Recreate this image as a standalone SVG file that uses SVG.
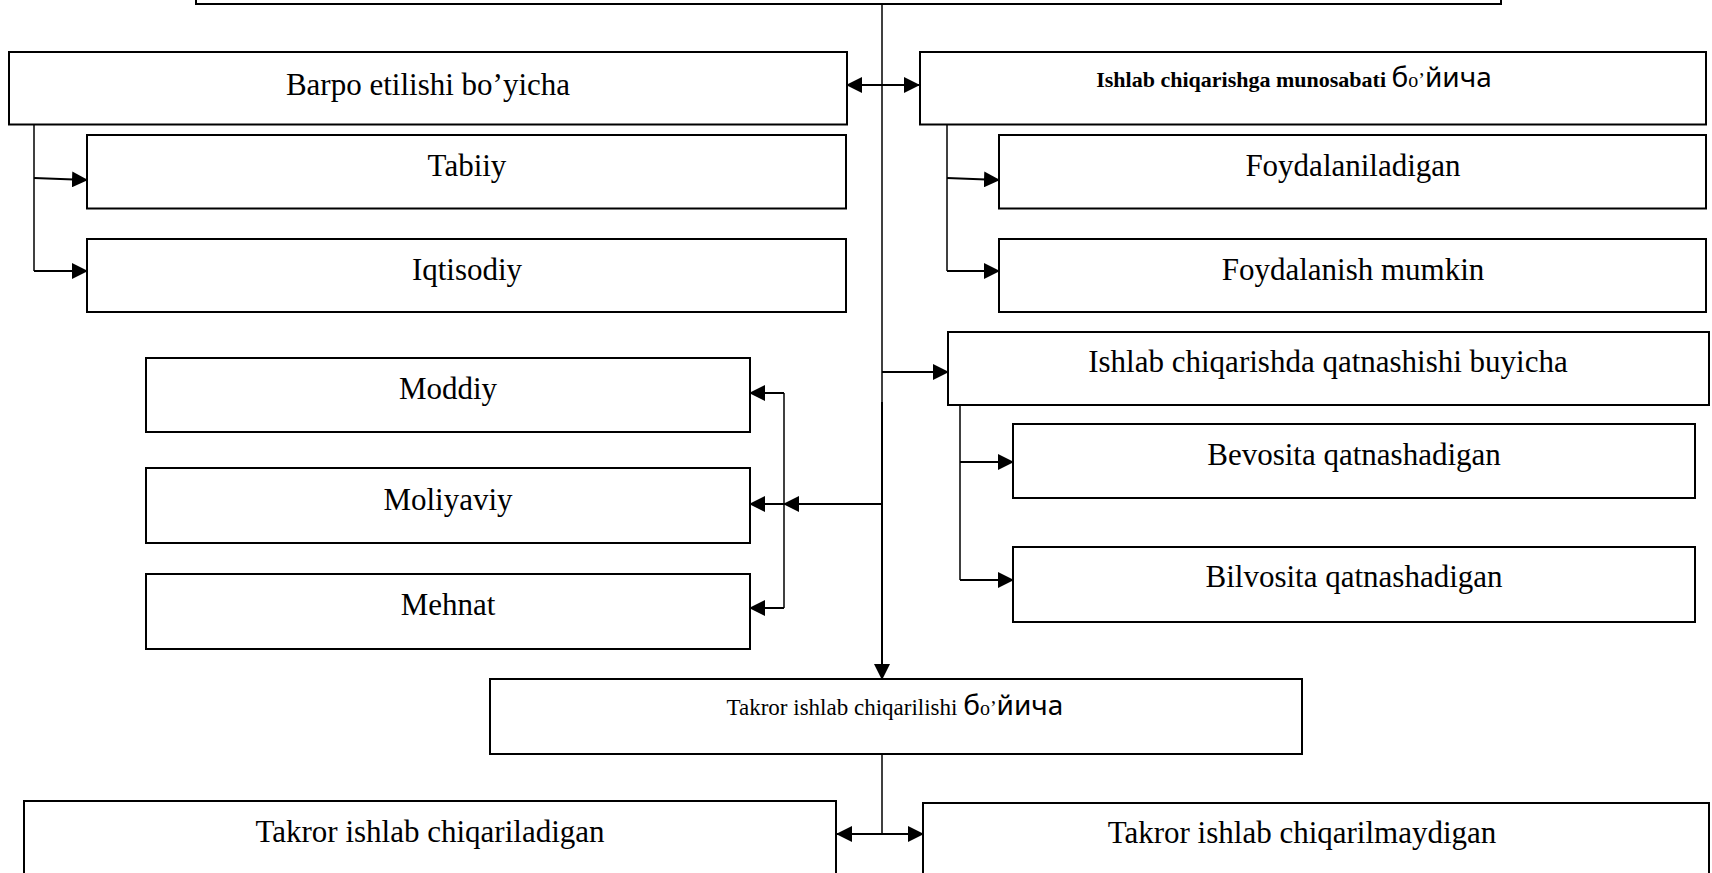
<svg xmlns="http://www.w3.org/2000/svg" width="1712" height="873" viewBox="0 0 1712 873">
<style>
.box{fill:#fff;stroke:#000;stroke-width:2}
.t{font-family:"Liberation Serif","Times New Roman",serif;font-size:31px;fill:#000;text-anchor:middle}
.sm{font-family:"Liberation Serif","Times New Roman",serif;font-size:23px}
.smb{font-family:"Liberation Serif","Times New Roman",serif;font-size:22px;font-weight:bold}
.cy{font-family:"Noto Sans","Open Sans",sans-serif;font-size:28px}
.cyo{font-family:"Liberation Serif",serif;font-size:20px}
.c{fill:none;stroke:#000;stroke-width:2}
.ct{fill:none;stroke:#000;stroke-width:1.5}
</style>
<defs>
<marker id="ah" markerUnits="userSpaceOnUse" markerWidth="16" markerHeight="16" viewBox="0 0 16 16" refX="15" refY="8" orient="auto-start-reverse">
<path d="M0,0 L16,8 L0,16 Z" fill="#000"/>
</marker>
</defs>
<rect width="1712" height="873" fill="#fff"/>

<g id="connectors">
<path class="ct" d="M882,4 V402"/>
<path class="c" d="M882,402 V679" marker-end="url(#ah)" stroke-width="2.5"/>
<path class="c" d="M847,85 H919" marker-start="url(#ah)" marker-end="url(#ah)"/>
<path class="ct" d="M34,124.5 V271"/>
<path class="c" d="M34,178 L87,180" marker-end="url(#ah)"/>
<path class="c" d="M34,271 H87" marker-end="url(#ah)"/>
<path class="ct" d="M947,124.5 V271"/>
<path class="c" d="M947,178 L999,180" marker-end="url(#ah)"/>
<path class="c" d="M947,271 H999" marker-end="url(#ah)"/>
<path class="c" d="M882,372 H948" marker-end="url(#ah)"/>
<path class="ct" d="M960,405 V580"/>
<path class="c" d="M960,462 H1013" marker-end="url(#ah)"/>
<path class="c" d="M960,580 H1013" marker-end="url(#ah)"/>
<path class="c" d="M882,504 H784" marker-end="url(#ah)"/>
<path class="ct" d="M784,393 V608"/>
<path class="c" d="M784,393 H750" marker-end="url(#ah)"/>
<path class="c" d="M784,504 H750" marker-end="url(#ah)"/>
<path class="c" d="M784,608 H750" marker-end="url(#ah)"/>
<path class="ct" d="M882,754 V834"/>
<path class="c" d="M882,834 H837" marker-end="url(#ah)"/>
<path class="c" d="M882,834 H923" marker-end="url(#ah)"/>
</g>

<g id="top"><rect class="box" x="196" y="-20" width="1305" height="24"/></g>

<g id="barpo"><rect class="box" x="9" y="52" width="838" height="72.5"/><text class="t" x="428" y="95">Barpo etilishi bo’yicha</text></g>
<g id="tabiiy"><rect class="box" x="87" y="135" width="759" height="73.5"/><text class="t" x="467" y="176">Tabiiy</text></g>
<g id="iqtisodiy"><rect class="box" x="87" y="239" width="759" height="73"/><text class="t" x="467" y="280">Iqtisodiy</text></g>

<g id="munosabati"><rect class="box" x="920" y="52" width="786" height="72.5"/><text x="1294" y="87" text-anchor="middle"><tspan class="smb">Ishlab chiqarishga munosabati </tspan><tspan class="cy">б</tspan><tspan class="cyo">о’</tspan><tspan class="cy">йича</tspan></text></g>
<g id="foydalaniladigan"><rect class="box" x="999" y="135" width="707" height="73.5"/><text class="t" x="1353" y="176">Foydalaniladigan</text></g>
<g id="foydalanish"><rect class="box" x="999" y="239" width="707" height="73"/><text class="t" x="1353" y="280">Foydalanish mumkin</text></g>

<g id="qatnashishi"><rect class="box" x="948" y="332" width="761" height="73"/><text class="t" x="1328" y="372">Ishlab chiqarishda qatnashishi buyicha</text></g>
<g id="bevosita"><rect class="box" x="1013" y="424" width="682" height="74"/><text class="t" x="1354" y="465">Bevosita qatnashadigan</text></g>
<g id="bilvosita"><rect class="box" x="1013" y="547" width="682" height="75"/><text class="t" x="1354" y="587">Bilvosita qatnashadigan</text></g>

<g id="moddiy"><rect class="box" x="146" y="358" width="604" height="74"/><text class="t" x="448" y="399">Moddiy</text></g>
<g id="moliyaviy"><rect class="box" x="146" y="468" width="604" height="75"/><text class="t" x="448" y="510">Moliyaviy</text></g>
<g id="mehnat"><rect class="box" x="146" y="574" width="604" height="75"/><text class="t" x="448" y="615">Mehnat</text></g>

<g id="takror"><rect class="box" x="490" y="679" width="812" height="75"/><text x="895" y="715" text-anchor="middle"><tspan class="sm">Takror ishlab chiqarilishi </tspan><tspan class="cy">б</tspan><tspan class="cyo">о’</tspan><tspan class="cy">йича</tspan></text></g>

<g id="chiqariladigan"><rect class="box" x="24" y="801" width="812" height="90"/><text class="t" x="430" y="842">Takror ishlab chiqariladigan</text></g>
<g id="chiqarilmaydigan"><rect class="box" x="923" y="803" width="786" height="90"/><text class="t" x="1302" y="843">Takror ishlab chiqarilmaydigan</text></g>
</svg>
